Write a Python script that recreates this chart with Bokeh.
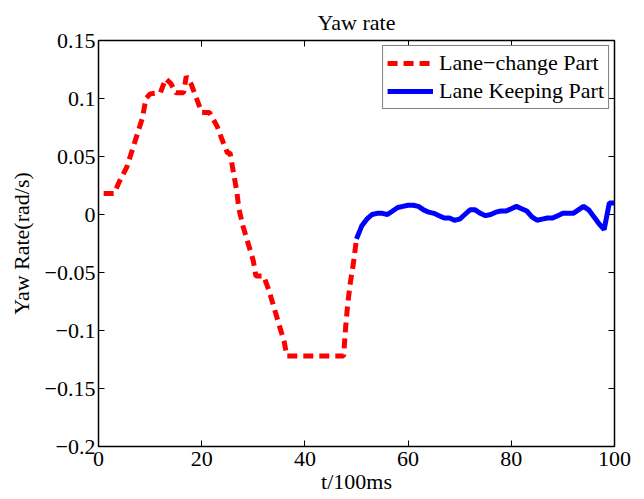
from bokeh.plotting import figure
from bokeh.models import Range1d, LinearAxis, FixedTicker, Legend, LegendItem, Title
from bokeh.embed import file_html
from bokeh.resources import INLINE

# Lane-change part (red dashed)
t_change = [1, 3, 4, 5.5, 6.5, 7.5, 8.5, 9.2, 10, 12, 13, 14, 15, 16.5, 17, 18, 19, 20, 21.5,
            23, 24, 25, 25.5, 26, 26.8, 27.2, 28, 29, 30, 30.5, 32, 33, 34, 35, 36, 36.5,
            47.5, 47.9, 48.3, 48.8, 49.4, 50]
y_change = [0.018, 0.018, 0.028, 0.041, 0.055, 0.069, 0.083, 0.100, 0.104, 0.105, 0.117, 0.113,
            0.105, 0.105, 0.119, 0.112, 0.100, 0.088, 0.088, 0.076, 0.064, 0.053, 0.053, 0.040,
            0.020, 0.005, -0.010, -0.025, -0.040, -0.053, -0.053, -0.065, -0.080, -0.095, -0.110,
            -0.122, -0.122, -0.097, -0.077, -0.059, -0.042, -0.021]

# Lane keeping part (blue solid)
t_keep = list(range(50, 101))
y_keep = [-0.021, -0.010, -0.004, 0.000, 0.001, 0.001, 0.000, 0.003, 0.006, 0.007, 0.008,
          0.008, 0.007, 0.004, 0.002, 0.001, -0.001, -0.003, -0.003, -0.005, -0.004, 0.000,
          0.004, 0.004, 0.001, -0.001, 0.000, 0.002, 0.003, 0.003, 0.005, 0.007, 0.005, 0.003,
          -0.002, -0.005, -0.004, -0.003, -0.003, -0.001, 0.001, 0.001, 0.001, 0.004, 0.007,
          0.004, -0.002, -0.008, -0.013, 0.010, 0.010]

x_ticks = [0, 20, 40, 60, 80, 100]
y_ticks = [-0.2, -0.15, -0.1, -0.05, 0, 0.05, 0.1, 0.15]
y_tick_labels = ["\u22120.2", "\u22120.15", "\u22120.1", "\u22120.05", "0", "0.05", "0.1", "0.15"]

FONT = "Liberation Serif"
FS = "22px"

p = figure(width=636, height=497, output_backend="svg", toolbar_location=None,
           x_range=Range1d(0, 100), y_range=Range1d(-0.2, 0.15),
           min_border_left=98, min_border_right=22, min_border_top=40, min_border_bottom=51)
p.title = Title(text="Yaw rate", align="center", text_font=FONT, text_font_size="22px",
                text_font_style="normal", text_color="black", standoff=11)
p.grid.visible = False
p.outline_line_color = "black"
p.outline_line_width = 1.5

def style_axis(ax, labels=True):
    ax.major_tick_in = 6
    ax.major_tick_out = 0
    ax.minor_tick_in = 0
    ax.minor_tick_out = 0
    ax.axis_line_color = "black"
    ax.major_tick_line_color = "black"
    ax.major_label_text_font = FONT
    ax.major_label_text_font_size = FS
    ax.major_label_text_color = "black"
    ax.axis_label_text_font = FONT
    ax.axis_label_text_font_size = FS
    ax.axis_label_text_font_style = "normal"
    ax.axis_label_text_color = "black"
    if not labels:
        ax.major_label_text_font_size = "0px"
        ax.major_label_text_alpha = 0

p.xaxis.ticker = FixedTicker(ticks=x_ticks)
p.yaxis.ticker = FixedTicker(ticks=y_ticks)
p.yaxis.major_label_overrides = {v: s for v, s in zip(y_ticks, y_tick_labels)}
p.xaxis.axis_label = "t/100ms"
p.yaxis.axis_label = "Yaw Rate(rad/s)"
style_axis(p.xaxis[0])
style_axis(p.yaxis[0])
p.xaxis.axis_label_standoff = 0
p.xaxis.major_label_standoff = 5
p.yaxis.major_label_standoff = 3
p.yaxis.axis_label_standoff = 8

top = LinearAxis(ticker=FixedTicker(ticks=x_ticks))
right = LinearAxis(ticker=FixedTicker(ticks=y_ticks))
style_axis(top, labels=False)
style_axis(right, labels=False)
top.major_label_standoff = 0
right.major_label_standoff = 0
p.add_layout(top, "above")
p.add_layout(right, "right")

r1 = p.line(t_change, y_change, line_color="red", line_width=5, line_dash="10 6")
r2 = p.line(t_keep, y_keep, line_color="blue", line_width=5)

legend = Legend(items=[LegendItem(label="Lane\u2212change Part", renderers=[r1]),
                       LegendItem(label="Lane Keeping Part", renderers=[r2])],
                location="top_right")
legend.label_text_font = FONT
legend.label_text_font_size = FS
legend.label_text_color = "black"
legend.border_line_color = "black"
legend.border_line_width = 1
legend.glyph_width = 46
legend.glyph_height = 22
legend.label_height = 22
legend.spacing = 2
legend.padding = 4
legend.margin = 5
legend.label_standoff = 6
p.add_layout(legend, "center")

open("out.html", "w").write(file_html(p, INLINE))
